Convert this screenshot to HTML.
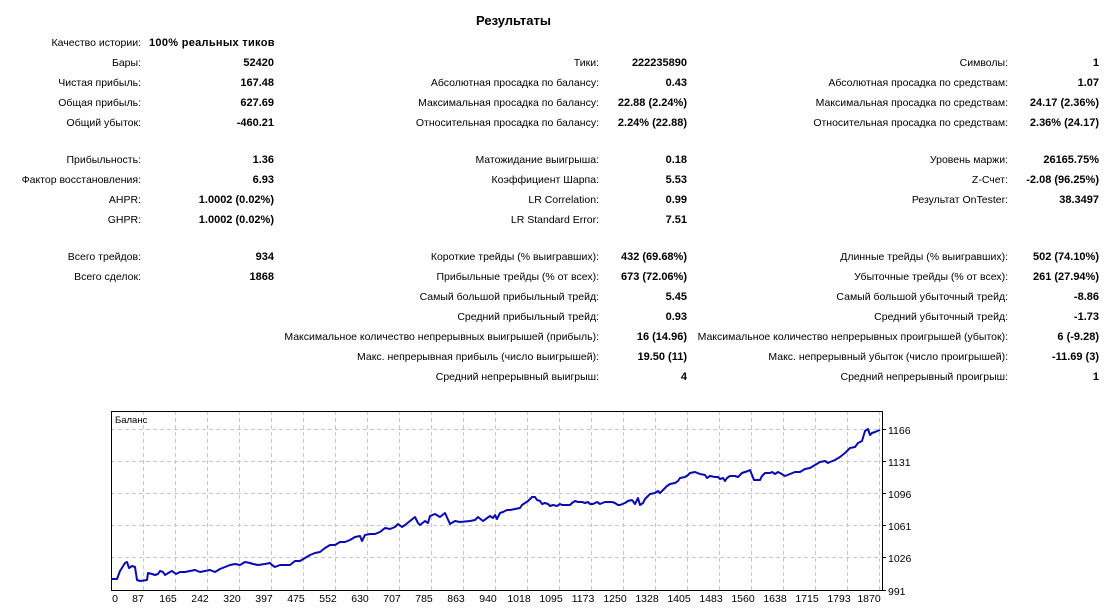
<!DOCTYPE html>
<html><head><meta charset="utf-8"><style>
body{margin:0;width:1113px;height:612px;background:#fff;position:relative;overflow:hidden;font-family:"Liberation Sans","DejaVu Sans",sans-serif;font-size:10.5px;color:#000}
.l,.v{position:absolute;white-space:nowrap;line-height:13px}
.l{text-align:right}
.v{text-align:right;font-weight:bold;font-size:11px}
.t{position:absolute;left:0;width:1027px;text-align:center;top:13px;font-weight:bold;font-size:13px}
</style></head><body>
<div class="t">Результаты</div>
<div class="l" style="right:972px;top:37px">Качество истории:</div>
<div class="v" style="left:149px;top:37px;text-align:left;letter-spacing:0.3px">100% реальных тиков</div>
<div class="l" style="right:972px;top:57px">Бары:</div><div class="v" style="right:839px;top:57px">52420</div>
<div class="l" style="right:972px;top:77px">Чистая прибыль:</div><div class="v" style="right:839px;top:77px">167.48</div>
<div class="l" style="right:972px;top:97px">Общая прибыль:</div><div class="v" style="right:839px;top:97px">627.69</div>
<div class="l" style="right:972px;top:117px">Общий убыток:</div><div class="v" style="right:839px;top:117px">-460.21</div>
<div class="l" style="right:972px;top:154px">Прибыльность:</div><div class="v" style="right:839px;top:154px">1.36</div>
<div class="l" style="right:972px;top:174px">Фактор восстановления:</div><div class="v" style="right:839px;top:174px">6.93</div>
<div class="l" style="right:972px;top:194px">AHPR:</div><div class="v" style="right:839px;top:194px">1.0002 (0.02%)</div>
<div class="l" style="right:972px;top:214px">GHPR:</div><div class="v" style="right:839px;top:214px">1.0002 (0.02%)</div>
<div class="l" style="right:972px;top:251px">Всего трейдов:</div><div class="v" style="right:839px;top:251px">934</div>
<div class="l" style="right:972px;top:271px">Всего сделок:</div><div class="v" style="right:839px;top:271px">1868</div>
<div class="l" style="right:514px;top:57px">Тики:</div><div class="v" style="right:426px;top:57px">222235890</div>
<div class="l" style="right:514px;top:77px">Абсолютная просадка по балансу:</div><div class="v" style="right:426px;top:77px">0.43</div>
<div class="l" style="right:514px;top:97px">Максимальная просадка по балансу:</div><div class="v" style="right:426px;top:97px">22.88 (2.24%)</div>
<div class="l" style="right:514px;top:117px">Относительная просадка по балансу:</div><div class="v" style="right:426px;top:117px">2.24% (22.88)</div>
<div class="l" style="right:514px;top:154px">Матожидание выигрыша:</div><div class="v" style="right:426px;top:154px">0.18</div>
<div class="l" style="right:514px;top:174px">Коэффициент Шарпа:</div><div class="v" style="right:426px;top:174px">5.53</div>
<div class="l" style="right:514px;top:194px">LR Correlation:</div><div class="v" style="right:426px;top:194px">0.99</div>
<div class="l" style="right:514px;top:214px">LR Standard Error:</div><div class="v" style="right:426px;top:214px">7.51</div>
<div class="l" style="right:514px;top:251px">Короткие трейды (% выигравших):</div><div class="v" style="right:426px;top:251px">432 (69.68%)</div>
<div class="l" style="right:514px;top:271px">Прибыльные трейды (% от всех):</div><div class="v" style="right:426px;top:271px">673 (72.06%)</div>
<div class="l" style="right:514px;top:291px">Самый большой прибыльный трейд:</div><div class="v" style="right:426px;top:291px">5.45</div>
<div class="l" style="right:514px;top:311px">Средний прибыльный трейд:</div><div class="v" style="right:426px;top:311px">0.93</div>
<div class="l" style="right:514px;top:331px">Максимальное количество непрерывных выигрышей (прибыль):</div><div class="v" style="right:426px;top:331px">16 (14.96)</div>
<div class="l" style="right:514px;top:351px">Макс. непрерывная прибыль (число выигрышей):</div><div class="v" style="right:426px;top:351px">19.50 (11)</div>
<div class="l" style="right:514px;top:371px">Средний непрерывный выигрыш:</div><div class="v" style="right:426px;top:371px">4</div>
<div class="l" style="right:105px;top:57px">Символы:</div><div class="v" style="right:14px;top:57px">1</div>
<div class="l" style="right:105px;top:77px">Абсолютная просадка по средствам:</div><div class="v" style="right:14px;top:77px">1.07</div>
<div class="l" style="right:105px;top:97px">Максимальная просадка по средствам:</div><div class="v" style="right:14px;top:97px">24.17 (2.36%)</div>
<div class="l" style="right:105px;top:117px">Относительная просадка по средствам:</div><div class="v" style="right:14px;top:117px">2.36% (24.17)</div>
<div class="l" style="right:105px;top:154px">Уровень маржи:</div><div class="v" style="right:14px;top:154px">26165.75%</div>
<div class="l" style="right:105px;top:174px">Z-Счет:</div><div class="v" style="right:14px;top:174px">-2.08 (96.25%)</div>
<div class="l" style="right:105px;top:194px">Результат OnTester:</div><div class="v" style="right:14px;top:194px">38.3497</div>
<div class="l" style="right:105px;top:251px">Длинные трейды (% выигравших):</div><div class="v" style="right:14px;top:251px">502 (74.10%)</div>
<div class="l" style="right:105px;top:271px">Убыточные трейды (% от всех):</div><div class="v" style="right:14px;top:271px">261 (27.94%)</div>
<div class="l" style="right:105px;top:291px">Самый большой убыточный трейд:</div><div class="v" style="right:14px;top:291px">-8.86</div>
<div class="l" style="right:105px;top:311px">Средний убыточный трейд:</div><div class="v" style="right:14px;top:311px">-1.73</div>
<div class="l" style="right:105px;top:331px">Максимальное количество непрерывных проигрышей (убыток):</div><div class="v" style="right:14px;top:331px">6 (-9.28)</div>
<div class="l" style="right:105px;top:351px">Макс. непрерывный убыток (число проигрышей):</div><div class="v" style="right:14px;top:351px">-11.69 (3)</div>
<div class="l" style="right:105px;top:371px">Средний непрерывный проигрыш:</div><div class="v" style="right:14px;top:371px">1</div>

<svg width="1113" height="612" style="position:absolute;left:0;top:0" font-family="Liberation Sans, DejaVu Sans, sans-serif" font-size="10.5">
<g stroke="#c8c8c8" stroke-dasharray="4,3" stroke-width="1">
<line x1="111" x2="882" y1="429.5" y2="429.5"/><line x1="111" x2="882" y1="461.5" y2="461.5"/><line x1="111" x2="882" y1="493.5" y2="493.5"/><line x1="111" x2="882" y1="525.5" y2="525.5"/><line x1="111" x2="882" y1="557.5" y2="557.5"/>
<line x1="143.5" x2="143.5" y1="411" y2="590"/><line x1="175.5" x2="175.5" y1="411" y2="590"/><line x1="207.5" x2="207.5" y1="411" y2="590"/><line x1="239.5" x2="239.5" y1="411" y2="590"/><line x1="271.5" x2="271.5" y1="411" y2="590"/><line x1="303.5" x2="303.5" y1="411" y2="590"/><line x1="335.5" x2="335.5" y1="411" y2="590"/><line x1="367.5" x2="367.5" y1="411" y2="590"/><line x1="399.5" x2="399.5" y1="411" y2="590"/><line x1="431.5" x2="431.5" y1="411" y2="590"/><line x1="463.5" x2="463.5" y1="411" y2="590"/><line x1="495.5" x2="495.5" y1="411" y2="590"/><line x1="527.5" x2="527.5" y1="411" y2="590"/><line x1="559.5" x2="559.5" y1="411" y2="590"/><line x1="591.5" x2="591.5" y1="411" y2="590"/><line x1="623.5" x2="623.5" y1="411" y2="590"/><line x1="655.5" x2="655.5" y1="411" y2="590"/><line x1="687.5" x2="687.5" y1="411" y2="590"/><line x1="719.5" x2="719.5" y1="411" y2="590"/><line x1="751.5" x2="751.5" y1="411" y2="590"/><line x1="783.5" x2="783.5" y1="411" y2="590"/><line x1="815.5" x2="815.5" y1="411" y2="590"/><line x1="847.5" x2="847.5" y1="411" y2="590"/><line x1="879.5" x2="879.5" y1="411" y2="590"/>
</g>
<rect x="111.5" y="411.5" width="771" height="179" fill="none" stroke="#000"/>
<g stroke="#000"><line x1="882" x2="886" y1="429.5" y2="429.5"/><line x1="882" x2="886" y1="461.5" y2="461.5"/><line x1="882" x2="886" y1="493.5" y2="493.5"/><line x1="882" x2="886" y1="525.5" y2="525.5"/><line x1="882" x2="886" y1="557.5" y2="557.5"/><line x1="882" x2="886" y1="590.5" y2="590.5"/></g>
<text x="115" y="423" font-size="9.5">Баланс</text>
<polyline fill="none" stroke="#0a0ab4" stroke-width="2" stroke-linejoin="round" points="111,579 117,579 120,571 125,563 127,562 129,568 132,566 135,567 137,580 140,581 147,580 148,573 152,574 155,575 158,574 160,571 163,572 165,575 170,572 172,571 176,574 180,572 185,572 190,571 195,570 200,572 205,571 210,570 215,572 220,569 225,567 230,565 235,564 240,565 245,562 250,563 253,564 258,565 265,564 270,563 272,565 275,567 280,565 290,565 295,561 300,561 305,558 310,555 315,553 320,552 325,548 330,545 335,545 340,542 345,542 350,540 355,537 360,536 362,541 365,535 370,534 375,534 380,532 385,528 390,529 395,527 398,524 402,527 405,525 410,521 415,517 418,523 420,525 425,521 428,523 430,516 435,514 440,517 445,513 450,524 455,521 460,522 470,521 475,520 478,517 483,521 490,516 493,518 495,515 497,519 500,513 503,512 507,510 510,510 515,509 520,508 522,505 525,503 528,501 530,499 532,497 535,497 537,500 540,501 542,504 545,503 548,504 550,506 553,505 557,506 560,504 562,505 570,505 572,503 575,501 578,502 582,502 585,503 588,502 590,504 593,504 597,502 600,504 605,502 612,502 615,503 618,505 620,505 625,503 628,501 632,500 635,504 638,498 640,505 643,503 645,499 647,497 650,494 655,493 658,491 660,493 663,490 665,488 667,486 670,484 675,483 678,481 680,478 685,477 688,475 690,473 695,472 700,474 705,475 707,478 710,476 715,477 718,477 720,479 723,478 725,481 727,478 730,476 735,476 738,477 742,473 745,472 748,471 750,470 752,475 754,480 760,480 762,476 765,473 770,473 772,472 775,474 778,472 780,473 785,476 790,474 795,472 800,472 805,469 810,468 815,465 820,462 825,461 828,463 830,462 835,460 840,457 845,453 850,448 855,447 858,443 862,441 865,431 868,429 870,435 872,433 875,432 880,430"/>
<g text-anchor="start"><text x="888" y="434">1166</text><text x="888" y="466">1131</text><text x="888" y="498">1096</text><text x="888" y="530">1061</text><text x="888" y="562">1026</text><text x="888" y="595">991</text></g>
<g text-anchor="middle"><text x="115" y="602">0</text><text x="138" y="602">87</text><text x="168" y="602">165</text><text x="200" y="602">242</text><text x="232" y="602">320</text><text x="264" y="602">397</text><text x="296" y="602">475</text><text x="328" y="602">552</text><text x="360" y="602">630</text><text x="392" y="602">707</text><text x="424" y="602">785</text><text x="456" y="602">863</text><text x="488" y="602">940</text><text x="519" y="602">1018</text><text x="551" y="602">1095</text><text x="583" y="602">1173</text><text x="615" y="602">1250</text><text x="647" y="602">1328</text><text x="679" y="602">1405</text><text x="711" y="602">1483</text><text x="743" y="602">1560</text><text x="775" y="602">1638</text><text x="807" y="602">1715</text><text x="839" y="602">1793</text><text x="869" y="602">1870</text></g>
</svg>
</body></html>
